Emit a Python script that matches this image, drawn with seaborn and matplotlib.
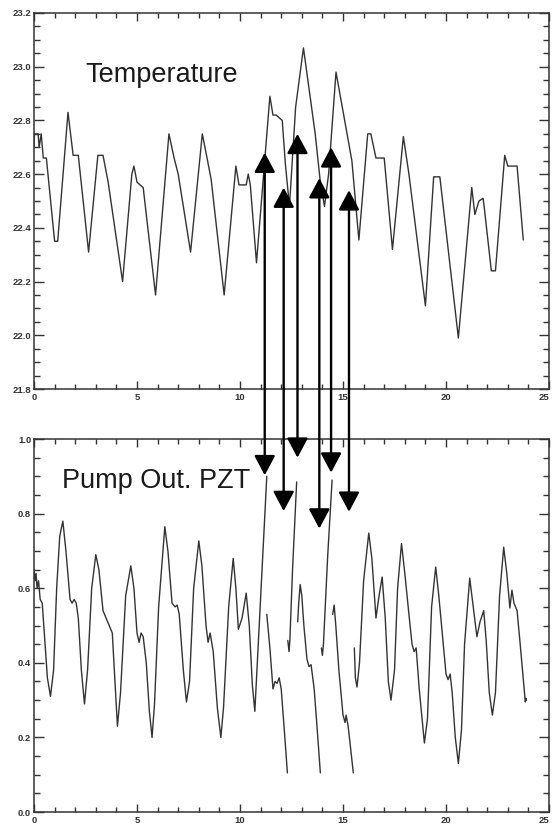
import matplotlib
matplotlib.use('Agg')
import matplotlib.pyplot as plt
from matplotlib.patches import ConnectionPatch
from matplotlib.ticker import MultipleLocator, FormatStrFormatter
import seaborn as sns
import pandas as pd

sns.set_style("ticks")
plt.rcParams['font.family'] = ['Liberation Sans', 'DejaVu Sans']

# temperature trace
temp_x = [0.0, 0.02, 0.2, 0.25, 0.35, 0.45, 0.6, 1.0, 1.15, 1.65, 1.9, 2.15, 2.65,
          3.1, 3.35, 3.6, 4.3, 4.75, 4.85, 5.0, 5.3, 5.9, 6.55, 6.8, 7.0, 7.6,
          8.17, 8.4, 8.6, 9.23, 9.8, 9.95, 10.3, 10.4, 10.5, 10.8, 11.45, 11.6,
          11.75, 12.05, 12.2, 12.4, 12.7, 13.08, 13.65, 13.9, 14.1, 14.3, 14.66,
          15.43, 15.77, 16.2, 16.35, 16.6, 17.0, 17.4, 17.93, 18.2, 19.0, 19.4,
          19.7, 20.6, 21.25, 21.4, 21.6, 21.8, 21.85, 22.2, 22.4, 22.85, 23.0,
          23.45, 23.75]
temp_y = [22.70, 22.75, 22.75, 22.70, 22.75, 22.66, 22.66, 22.35, 22.35, 22.83,
          22.67, 22.67, 22.31, 22.67, 22.67, 22.57, 22.20, 22.60, 22.63, 22.57,
          22.55, 22.15, 22.75, 22.66, 22.60, 22.31, 22.75, 22.66, 22.58, 22.15,
          22.63, 22.56, 22.56, 22.60, 22.56, 22.27, 22.89, 22.82, 22.82, 22.80,
          22.64, 22.48, 22.85, 23.07, 22.75, 22.57, 22.48, 22.60, 22.98, 22.65,
          22.355, 22.75, 22.75, 22.66, 22.66, 22.32, 22.74, 22.60, 22.11, 22.59,
          22.59, 21.99, 22.55, 22.45, 22.50, 22.51, 22.48, 22.24, 22.24, 22.67,
          22.63, 22.63, 22.355]

# pump out PZT trace, split into pieces where it jumps
pzt_seg = (["A"] * 74 + ["B"] * 9 + ["C"] * 5 + ["D"] * 11 + ["E"] * 5
           + ["F"] * 9 + ["G"] * 63)
pzt_x = [0.0, 0.05, 0.1, 0.15, 0.22, 0.3, 0.4, 0.5, 0.65, 0.8, 0.95, 1.1, 1.25,
         1.4, 1.55, 1.75, 1.85, 1.95, 2.05, 2.15, 2.3, 2.45, 2.6, 2.8, 3.0, 3.15,
         3.35, 3.5, 3.65, 3.8, 3.95, 4.05, 4.2, 4.45, 4.7, 4.85, 5.0, 5.1, 5.2,
         5.3, 5.45, 5.6, 5.73, 5.85, 6.05, 6.35, 6.5, 6.7, 6.85, 6.95, 7.05,
         7.25, 7.4, 7.55, 7.75, 8.0, 8.15, 8.35, 8.45, 8.55, 8.7, 8.9, 9.07, 9.2,
         9.45, 9.67, 9.8, 9.92, 10.1, 10.3, 10.45, 10.6, 10.72, 11.3,
         11.3, 11.45, 11.6, 11.7, 11.8, 11.9, 12.0, 12.15, 12.3,
         12.32, 12.38, 12.42, 12.55, 12.75,
         12.8, 12.85, 12.92, 13.0, 13.1, 13.25, 13.35, 13.45, 13.6, 13.75, 13.9,
         13.95, 14.0, 14.05, 14.25, 14.47,
         14.5, 14.57, 14.65, 14.8, 15.0, 15.1, 15.15, 15.25, 15.5,
         15.55, 15.6, 15.68, 15.8, 16.0, 16.25, 16.4, 16.6, 16.75, 16.9, 17.05,
         17.2, 17.33, 17.5, 17.65, 17.84, 18.0, 18.2, 18.35, 18.45, 18.55, 18.7,
         18.95, 19.1, 19.3, 19.5, 19.65, 19.9, 20.0, 20.1, 20.2, 20.3, 20.45,
         20.6, 20.75, 20.9, 21.15, 21.3, 21.5, 21.65, 21.83, 21.95, 22.1, 22.25,
         22.4, 22.6, 22.8, 22.95, 23.1, 23.2, 23.3, 23.45, 23.6, 23.85, 23.88,
         23.9]
pzt_y = [0.65, 0.62, 0.64, 0.60, 0.62, 0.57, 0.56, 0.48, 0.36, 0.31, 0.38, 0.60,
         0.74, 0.78, 0.70, 0.57, 0.56, 0.57, 0.56, 0.52, 0.38, 0.29, 0.38, 0.60,
         0.69, 0.65, 0.54, 0.52, 0.50, 0.48, 0.33, 0.23, 0.32, 0.58, 0.66, 0.60,
         0.48, 0.455, 0.48, 0.47, 0.40, 0.27, 0.20, 0.29, 0.55, 0.765, 0.70, 0.56,
         0.55, 0.555, 0.53, 0.38, 0.295, 0.35, 0.60, 0.727, 0.66, 0.50, 0.455,
         0.48, 0.43, 0.28, 0.20, 0.28, 0.55, 0.68, 0.60, 0.49, 0.52, 0.587, 0.50,
         0.34, 0.27, 0.90,
         0.53, 0.44, 0.33, 0.35, 0.345, 0.36, 0.33, 0.22, 0.105,
         0.46, 0.43, 0.46, 0.65, 0.885,
         0.51, 0.56, 0.61, 0.58, 0.50, 0.41, 0.39, 0.395, 0.33, 0.22, 0.105,
         0.44, 0.42, 0.45, 0.68, 0.89,
         0.53, 0.555, 0.50, 0.38, 0.26, 0.24, 0.26, 0.23, 0.105,
         0.44, 0.36, 0.335, 0.40, 0.62, 0.748, 0.68, 0.52, 0.58, 0.63, 0.52, 0.35,
         0.30, 0.38, 0.60, 0.72, 0.64, 0.53, 0.45, 0.43, 0.44, 0.33, 0.185, 0.25,
         0.55, 0.657, 0.58, 0.43, 0.37, 0.355, 0.37, 0.32, 0.20, 0.13, 0.22, 0.45,
         0.627, 0.56, 0.47, 0.51, 0.54, 0.46, 0.32, 0.26, 0.32, 0.58, 0.71, 0.64,
         0.547, 0.595, 0.56, 0.54, 0.45, 0.295, 0.305, 0.30]

# arrows: x position, tip in temperature panel, tip in PZT panel
arrow_x = [11.2, 12.12, 12.79, 13.85, 14.42, 15.29]
arrow_top = [22.68, 22.55, 22.75, 22.585, 22.70, 22.54]
arrow_bot = [0.903, 0.807, 0.95, 0.76, 0.91, 0.805]

dftemp = pd.DataFrame({'x': temp_x, 'y': temp_y})
dfpzt = pd.DataFrame({'x': pzt_x, 'y': pzt_y, 'seg': pzt_seg[:len(pzt_x)]})

fig = plt.figure(figsize=(5.52, 8.27), dpi=100)
ax1 = fig.add_axes([0.0616, 0.5296, 0.933, 0.4547])
ax2 = fig.add_axes([0.0616, 0.0181, 0.933, 0.451])

linecol = '#333333'
sns.lineplot(data=dftemp, x='x', y='y', ax=ax1, color=linecol, lw=1.0,
             estimator=None, sort=False)
sns.lineplot(data=dfpzt, x='x', y='y', units='seg', ax=ax2, color=linecol,
             lw=1.0, estimator=None, sort=False)

for ax, (lo, hi) in [(ax1, (21.8, 23.2)), (ax2, (0.0, 1.0))]:
    ax.set_xlim(0, 25)
    ax.set_ylim(lo, hi)
    ax.set_xlabel('')
    ax.set_ylabel('')
    ax.xaxis.set_major_locator(MultipleLocator(5))
    ax.xaxis.set_minor_locator(MultipleLocator(1))
    ax.yaxis.set_major_locator(MultipleLocator(0.2))
    ax.yaxis.set_minor_locator(MultipleLocator(0.05))
    ax.xaxis.set_major_formatter(FormatStrFormatter('%d'))
    ax.yaxis.set_major_formatter(FormatStrFormatter('%.1f'))
    ax.tick_params(axis='both', which='both', direction='in', top=True,
                   right=True, width=1.0, color='#333333', labelcolor='#333333',
                   labelsize=6.8)
    ax.tick_params(axis='y', which='major', length=7.5, pad=2)
    ax.tick_params(axis='y', which='minor', length=4.5)
    ax.tick_params(axis='x', which='major', length=5.5, pad=3)
    ax.tick_params(axis='x', which='minor', length=3.5)
    for sp in ax.spines.values():
        sp.set_linewidth(1.1)
        sp.set_color('#333333')

ax1.text(0.099, 0.816, 'Temperature', transform=ax1.transAxes, fontsize=19.5,
         color='#1a1a1a', va='baseline', ha='left')
ax2.text(0.054, 0.869, 'Pump Out. PZT', transform=ax2.transAxes, fontsize=19.5,
         color='#1a1a1a', va='baseline', ha='left')

for xa, yt, yb in zip(arrow_x, arrow_top, arrow_bot):
    con = ConnectionPatch(xyA=(xa, yt), coordsA=ax1.transData,
                          xyB=(xa, yb), coordsB=ax2.transData,
                          arrowstyle='<|-|>,head_length=0.6,head_width=0.32',
                          mutation_scale=20, lw=1.7, color='black',
                          shrinkA=0, shrinkB=0)
    fig.add_artist(con)

fig.canvas.draw()
for ax in (ax1, ax2):
    for tick in ax.xaxis.get_major_ticks() + ax.yaxis.get_major_ticks():
        tick.label1.set_fontweight('bold')
    for tick in ax.xaxis.get_major_ticks():
        # the 25 label sits on the figure edge: keep it inside
        if tick.label1.get_text() == '25':
            tick.label1.set_horizontalalignment('right')

fig.savefig('out.png', dpi=100)
plt.close()
